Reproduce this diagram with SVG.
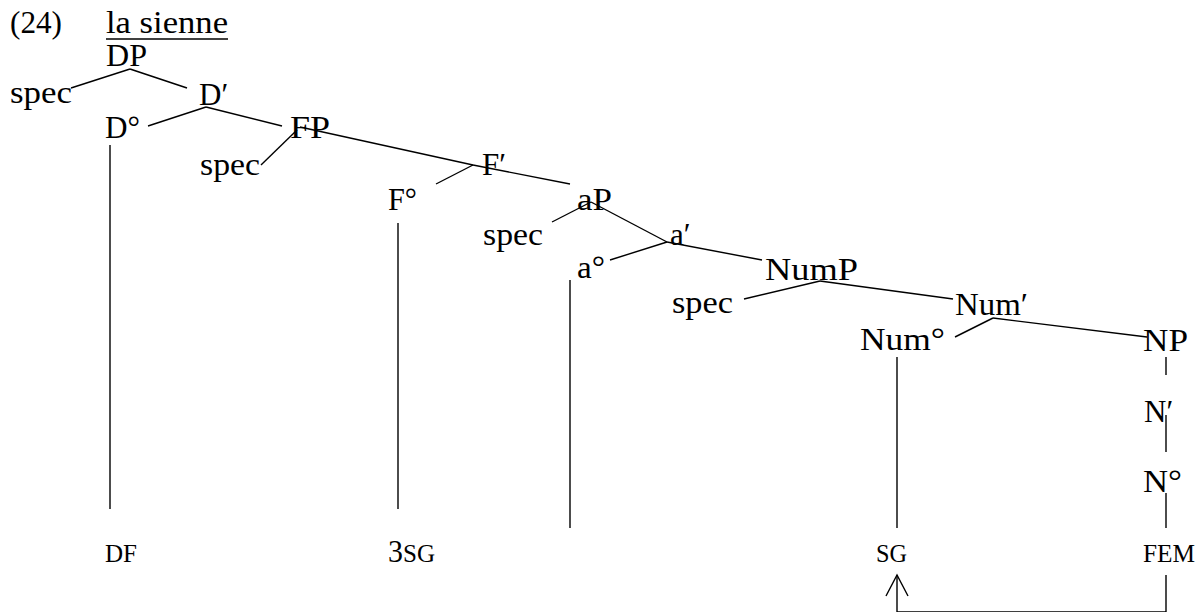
<svg xmlns="http://www.w3.org/2000/svg" width="1202" height="612" viewBox="0 0 1202 612">
<style>
text{font-family:"Liberation Serif","Times New Roman",serif;font-size:31px;fill:#000}
.sc{font-size:26px}
.e line,.e path{stroke:#000;stroke-width:1.4;fill:none;stroke-linecap:butt}
</style>
<rect width="1202" height="612" fill="#fff"/>
<g id="title">
<text x="10" y="33" textLength="52" lengthAdjust="spacingAndGlyphs">(24)</text>
<text x="106" y="33" textLength="122" lengthAdjust="spacingAndGlyphs">la sienne</text>
<line x1="106" y1="39" x2="228" y2="39" stroke="#000" stroke-width="1.5"/>
</g>
<g id="DP"><text x="106" y="66" textLength="41" lengthAdjust="spacingAndGlyphs">DP</text></g>
<g id="specDP"><text x="10" y="103" textLength="62" lengthAdjust="spacingAndGlyphs">spec</text></g>
<g id="Dbar"><text x="199" y="105">D′</text></g>
<g id="D0"><text x="105" y="138" textLength="35" lengthAdjust="spacingAndGlyphs">D°</text></g>
<g id="FP"><text x="290" y="138" textLength="40" lengthAdjust="spacingAndGlyphs">FP</text></g>
<g id="specFP"><text x="200" y="175" textLength="60" lengthAdjust="spacingAndGlyphs">spec</text></g>
<g id="Fbar"><text x="482" y="175">F′</text></g>
<g id="F0"><text x="388" y="210" textLength="29" lengthAdjust="spacingAndGlyphs">F°</text></g>
<g id="aP"><text x="577" y="210" textLength="35" lengthAdjust="spacingAndGlyphs">aP</text></g>
<g id="specaP"><text x="483" y="245" textLength="60" lengthAdjust="spacingAndGlyphs">spec</text></g>
<g id="abar"><text x="670" y="245">a′</text></g>
<g id="a0"><text x="577" y="278" textLength="28" lengthAdjust="spacingAndGlyphs">a°</text></g>
<g id="NumP"><text x="765" y="280" textLength="93" lengthAdjust="spacingAndGlyphs">NumP</text></g>
<g id="specNumP"><text x="672" y="313" textLength="61" lengthAdjust="spacingAndGlyphs">spec</text></g>
<g id="Numbar"><text x="955" y="315" textLength="73" lengthAdjust="spacingAndGlyphs">Num′</text></g>
<g id="Num0"><text x="860" y="350" textLength="85" lengthAdjust="spacingAndGlyphs">Num°</text></g>
<g id="NP"><text x="1143" y="351" textLength="45" lengthAdjust="spacingAndGlyphs">NP</text></g>
<g id="Nbar"><text x="1144" y="422">N′</text></g>
<g id="N0"><text x="1143" y="492" textLength="39" lengthAdjust="spacingAndGlyphs">N°</text></g>
<g id="DF"><text class="sc" x="105" y="562" textLength="32" lengthAdjust="spacingAndGlyphs">DF</text></g>
<g id="3SG"><text x="388" y="562" textLength="47" lengthAdjust="spacingAndGlyphs">3<tspan class="sc">SG</tspan></text></g>
<g id="SG"><text class="sc" x="876" y="562" textLength="31" lengthAdjust="spacingAndGlyphs">SG</text></g>
<g id="FEM"><text class="sc" x="1143" y="562" textLength="52" lengthAdjust="spacingAndGlyphs">FEM</text></g>
<g id="connectors" class="e">
<line x1="130" y1="69" x2="71" y2="88"/>
<line x1="130" y1="69" x2="187" y2="88"/>
<line x1="206" y1="107" x2="148" y2="126"/>
<line x1="206" y1="107" x2="282" y2="126"/>
<line x1="297" y1="130" x2="261" y2="165"/>
<line x1="300" y1="127" x2="473" y2="165"/>
<line x1="473" y1="165" x2="436" y2="184"/>
<line x1="473" y1="165" x2="570" y2="184"/>
<line x1="591" y1="202" x2="552" y2="222"/>
<line x1="591" y1="202" x2="667" y2="242"/>
<line x1="667" y1="242" x2="610" y2="260"/>
<line x1="667" y1="242" x2="762" y2="260"/>
<line x1="820" y1="281" x2="744" y2="299"/>
<line x1="820" y1="281" x2="953" y2="299"/>
<line x1="993" y1="318" x2="955" y2="337"/>
<line x1="993" y1="318" x2="1147" y2="337"/>
<line x1="1166" y1="357" x2="1166" y2="375"/>
<line x1="1166" y1="415" x2="1166" y2="452"/>
<line x1="1166" y1="493" x2="1166" y2="528"/>
<line x1="110" y1="145" x2="110" y2="509"/>
<line x1="398" y1="223" x2="398" y2="509"/>
<line x1="570" y1="280" x2="570" y2="528"/>
<line x1="897" y1="357" x2="897" y2="528"/>
<path d="M1166,575 V612 H897 V575"/>
<path d="M886,596 L897,575 L908,596"/>
</g>
</svg>
